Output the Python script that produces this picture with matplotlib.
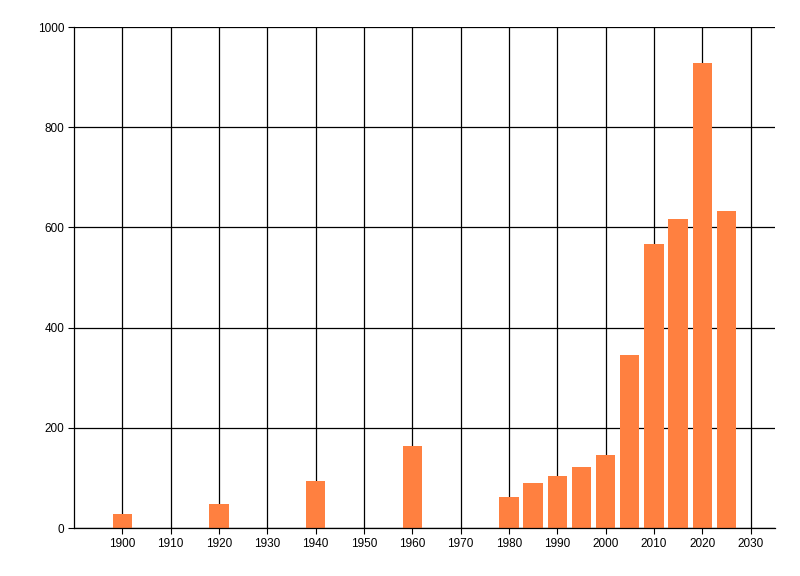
import matplotlib
matplotlib.use("Agg")
import matplotlib.pyplot as plt

# values
years = [1900, 1920, 1940, 1960, 1980, 1985, 1990, 1995, 2000, 2005, 2010, 2015, 2020, 2025]
counts = [28, 48, 93, 164, 62, 90, 104, 121, 146, 345, 567, 617, 929, 633]
x_ticks = list(range(1900, 2031, 10))
y_ticks = [0, 200, 400, 600, 800, 1000]

plt.rcParams['font.family'] = ['Liberation Sans', 'DejaVu Sans']

fig = plt.figure(figsize=(8, 5.76), dpi=100)
ax = fig.add_axes([0.0925, 0.0833, 0.876, 0.8698])

ax.bar(years, counts, width=4, color='#FF8040', zorder=2)

ax.set_xlim(1890, 2035)
ax.set_ylim(0, 1000)
ax.set_xticks(x_ticks)
ax.set_yticks(y_ticks)
ax.tick_params(labelsize=8.5, length=4, width=0.8, color='black', pad=3)

ax.grid(True, color='black', linewidth=0.9)
ax.set_axisbelow(True)
for side in ['top', 'right']:
    ax.spines[side].set_visible(False)
for side in ['left', 'bottom']:
    ax.spines[side].set_linewidth(0.9)

fig.savefig('out.png', dpi=100)
